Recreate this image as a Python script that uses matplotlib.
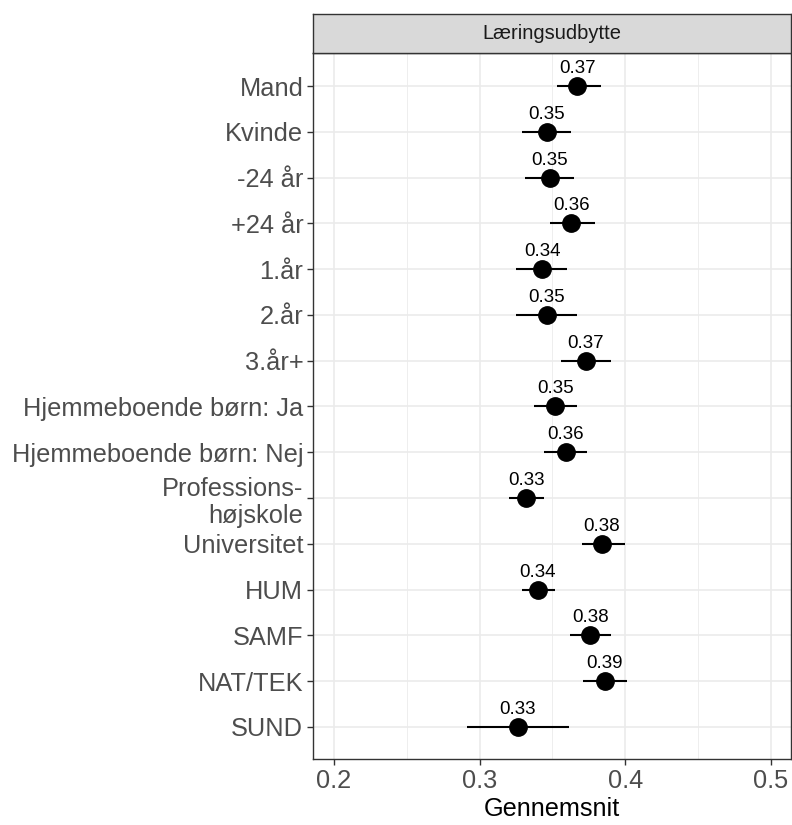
import matplotlib
matplotlib.use("Agg")
import matplotlib.pyplot as plt
from matplotlib.patches import Rectangle

plt.rcParams['font.family'] = ['Liberation Sans', 'DejaVu Sans']

# data (top to bottom)
categories = ["Mand", "Kvinde", "-24 år", "+24 år", "1.år", "2.år", "3.år+",
              "Hjemmeboende børn: Ja", "Hjemmeboende børn: Nej",
              "Professions-\nhøjskole", "Universitet", "HUM", "SAMF",
              "NAT/TEK", "SUND"]
means = [0.367, 0.346, 0.348, 0.363, 0.343, 0.346, 0.373, 0.352, 0.359,
         0.332, 0.384, 0.340, 0.376, 0.386, 0.326]
lower = [0.353, 0.329, 0.331, 0.348, 0.325, 0.325, 0.356, 0.337, 0.344,
         0.320, 0.370, 0.329, 0.362, 0.371, 0.291]
upper = [0.383, 0.363, 0.365, 0.379, 0.360, 0.367, 0.390, 0.367, 0.374,
         0.344, 0.400, 0.352, 0.390, 0.401, 0.361]
labels = ["0.37", "0.35", "0.35", "0.36", "0.34", "0.35", "0.37", "0.35",
          "0.36", "0.33", "0.38", "0.34", "0.38", "0.39", "0.33"]
panel_title = "Læringsudbytte"
x_title = "Gennemsnit"

fig = plt.figure(figsize=(7.92, 8.25), dpi=100)
ax = fig.add_axes([0.3952, 0.080, 0.6035, 0.8561])

ypos = list(range(len(categories)))

# grid like theme_bw
ax.set_xticks([0.2, 0.3, 0.4, 0.5])
ax.set_xticks([0.15, 0.25, 0.35, 0.45], minor=True)
ax.grid(which='major', color='#EBEBEB', linewidth=1.2)
ax.grid(which='minor', axis='x', color='#EBEBEB', linewidth=0.6)
ax.set_axisbelow(True)

for y, m, lo, hi, lab in zip(ypos, means, lower, upper, labels):
    ax.plot([lo, hi], [y, y], color='black', linewidth=1.5, solid_capstyle='butt')
    ax.plot(m, y, 'o', color='black', markersize=12.5)
    ax.annotate(lab, (m, y), xytext=(0, 9.4), textcoords='offset points',
                ha='center', va='baseline', fontsize=13.5, color='black')

ax.set_xlim(0.1856, 0.5137)
ax.set_ylim(14.70, -0.727)
ax.set_yticks(ypos)
ax.set_yticklabels(categories, ha='right', multialignment='right')
ax.set_xticklabels(["0.2", "0.3", "0.4", "0.5"])

ax.tick_params(which='major', length=4, width=1, color='#333333',
               labelsize=18.3, labelcolor='#4D4D4D', pad=3)
ax.tick_params(which='minor', length=0)
for s in ax.spines.values():
    s.set_color('#333333')
    s.set_linewidth(1.0)

ax.set_xlabel(x_title, fontsize=18.2, color='black', labelpad=3)

# facet strip
strip = fig.add_axes([0.3952, 0.9361, 0.6035, 0.0469])
strip.add_patch(Rectangle((0, 0), 1, 1, transform=strip.transAxes,
                          facecolor='#D9D9D9', edgecolor='none'))
strip.text(0.5, 0.5, panel_title, ha='center', va='center', fontsize=14.5,
           color='#1A1A1A', transform=strip.transAxes)
strip.set_xticks([])
strip.set_yticks([])
for s in strip.spines.values():
    s.set_color('#333333')
    s.set_linewidth(1.0)

fig.savefig("out.png", dpi=100)
